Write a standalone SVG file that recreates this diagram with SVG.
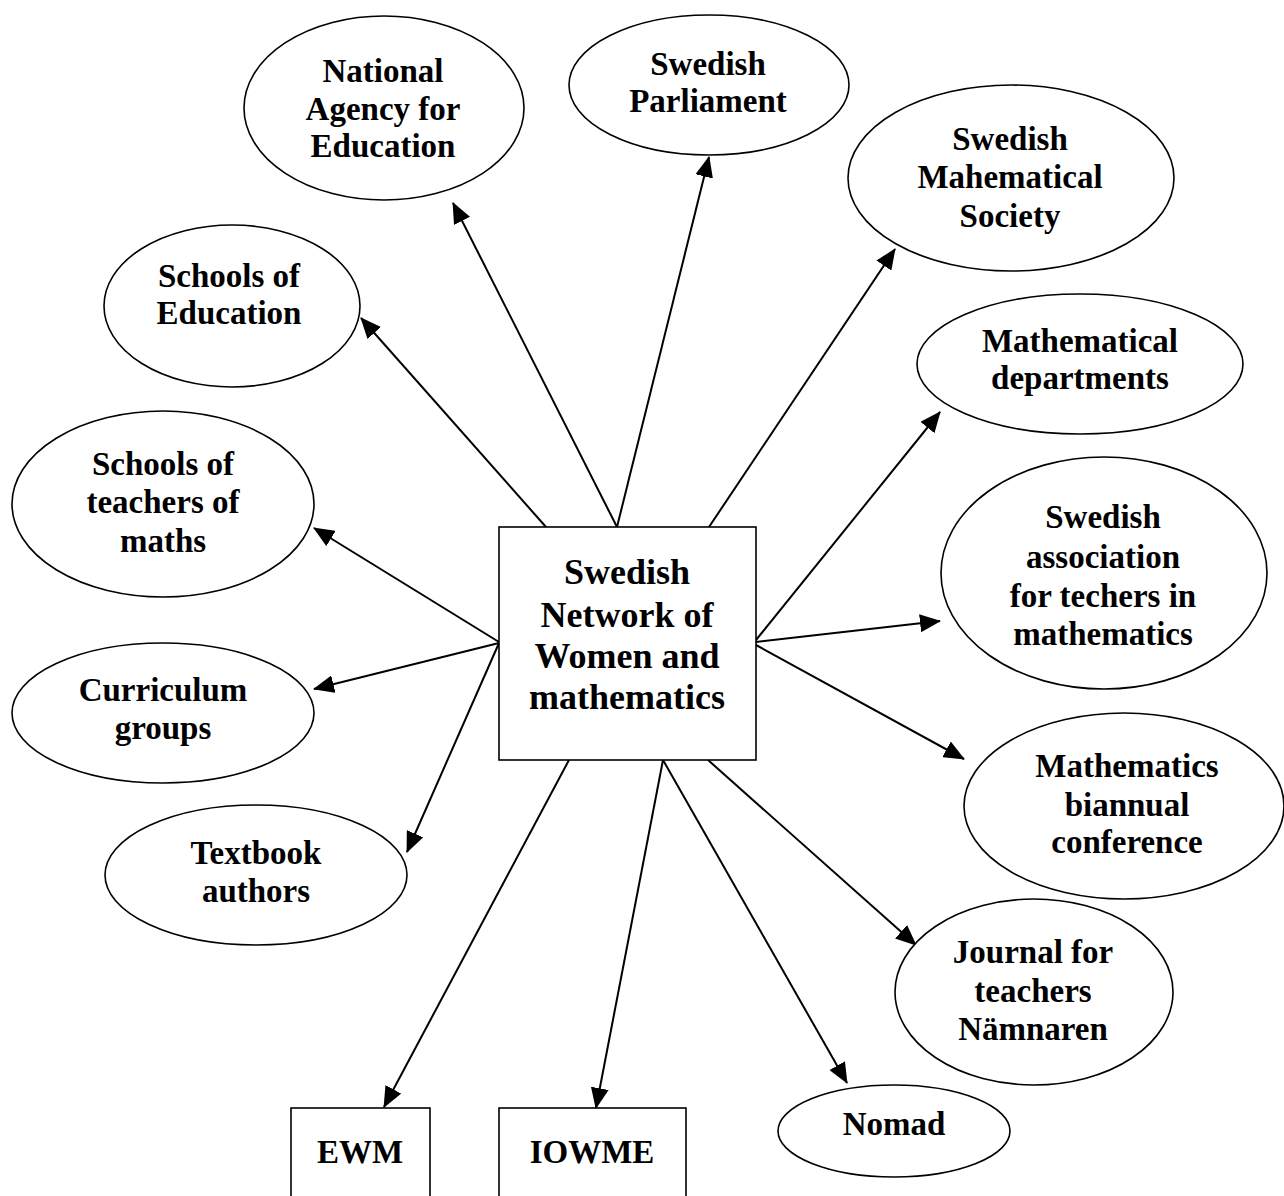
<svg xmlns="http://www.w3.org/2000/svg" width="1284" height="1196" viewBox="0 0 1284 1196">
<style>
.n ellipse,.n rect{fill:#fff;stroke:#000;stroke-width:1.6}
.t{font-family:"Liberation Serif","Times New Roman",serif;font-weight:bold;font-size:33px;text-anchor:middle;fill:#000}
.big{font-size:36px}
.c line{stroke:#000;stroke-width:2;marker-end:url(#ah)}
</style>
<defs>
<marker id="ah" markerUnits="userSpaceOnUse" markerWidth="21" markerHeight="18" refX="20" refY="9" orient="auto" viewBox="0 0 21 18">
<path d="M0,0 L21,9 L0,18 z" fill="#000"/>
</marker>
</defs>
<rect width="1284" height="1196" fill="#fff"/>
<g id="connectors" class="c">
<line x1="617" y1="527" x2="453" y2="203"/>
<line x1="617" y1="527" x2="709" y2="157"/>
<line x1="709" y1="527" x2="895" y2="249"/>
<line x1="546" y1="527" x2="361" y2="318"/>
<line x1="756" y1="640" x2="940" y2="412"/>
<line x1="499" y1="642" x2="314" y2="528"/>
<line x1="756" y1="642" x2="940" y2="621"/>
<line x1="499" y1="643" x2="314" y2="689"/>
<line x1="756" y1="645" x2="964" y2="759"/>
<line x1="499" y1="643" x2="407" y2="852"/>
<line x1="569" y1="760" x2="384" y2="1107"/>
<line x1="663" y1="760" x2="596" y2="1108"/>
<line x1="663" y1="760" x2="847" y2="1083"/>
<line x1="708" y1="760" x2="916" y2="945"/>
</g>
<g id="main" class="n">
<rect x="499" y="527" width="257" height="233"/>
<text class="t big"><tspan x="627" y="584">Swedish</tspan><tspan x="627" y="627">Network of</tspan><tspan x="627" y="668">Women and</tspan><tspan x="627" y="709">mathematics</tspan></text>
</g>
<g id="national-agency" class="n">
<ellipse cx="384" cy="108" rx="140" ry="92"/>
<text class="t"><tspan x="383" y="82">National</tspan><tspan x="383" y="120">Agency for</tspan><tspan x="383" y="157">Education</tspan></text>
</g>
<g id="parliament" class="n">
<ellipse cx="709" cy="85" rx="140" ry="70"/>
<text class="t"><tspan x="708" y="75">Swedish</tspan><tspan x="708" y="112">Parliament</tspan></text>
</g>
<g id="math-society" class="n">
<ellipse cx="1011" cy="178" rx="163" ry="93"/>
<text class="t"><tspan x="1010" y="150">Swedish</tspan><tspan x="1010" y="188">Mahematical</tspan><tspan x="1010" y="227">Society</tspan></text>
</g>
<g id="schools-education" class="n">
<ellipse cx="232" cy="306" rx="128" ry="81"/>
<text class="t"><tspan x="229" y="287">Schools of</tspan><tspan x="229" y="324">Education</tspan></text>
</g>
<g id="math-departments" class="n">
<ellipse cx="1080" cy="364" rx="163" ry="70"/>
<text class="t"><tspan x="1080" y="352">Mathematical</tspan><tspan x="1080" y="389">departments</tspan></text>
</g>
<g id="schools-teachers" class="n">
<ellipse cx="163" cy="504" rx="151" ry="93"/>
<text class="t"><tspan x="163" y="475">Schools of</tspan><tspan x="163" y="513">teachers of</tspan><tspan x="163" y="552">maths</tspan></text>
</g>
<g id="teachers-association" class="n">
<ellipse cx="1104" cy="573" rx="163" ry="116"/>
<text class="t"><tspan x="1103" y="528">Swedish</tspan><tspan x="1103" y="568">association</tspan><tspan x="1103" y="607">for techers in</tspan><tspan x="1103" y="645">mathematics</tspan></text>
</g>
<g id="curriculum" class="n">
<ellipse cx="163" cy="713" rx="151" ry="70"/>
<text class="t"><tspan x="163" y="701">Curriculum</tspan><tspan x="163" y="739">groups</tspan></text>
</g>
<g id="conference" class="n">
<ellipse cx="1124" cy="806" rx="160" ry="93"/>
<text class="t"><tspan x="1127" y="777">Mathematics</tspan><tspan x="1127" y="816">biannual</tspan><tspan x="1127" y="853">conference</tspan></text>
</g>
<g id="textbook" class="n">
<ellipse cx="256" cy="875" rx="151" ry="70"/>
<text class="t"><tspan x="256" y="864">Textbook</tspan><tspan x="256" y="902">authors</tspan></text>
</g>
<g id="journal" class="n">
<ellipse cx="1034" cy="992" rx="139" ry="93"/>
<text class="t"><tspan x="1033" y="963">Journal for</tspan><tspan x="1033" y="1002">teachers</tspan><tspan x="1033" y="1040">Nämnaren</tspan></text>
</g>
<g id="nomad" class="n">
<ellipse cx="894" cy="1131" rx="116" ry="46"/>
<text class="t"><tspan x="894" y="1135">Nomad</tspan></text>
</g>
<g id="ewm" class="n">
<rect x="291" y="1108" width="139" height="100"/>
<text class="t" x="360" y="1163">EWM</text>
</g>
<g id="iowme" class="n">
<rect x="499" y="1108" width="187" height="100"/>
<text class="t" x="592" y="1163">IOWME</text>
</g>
</svg>
